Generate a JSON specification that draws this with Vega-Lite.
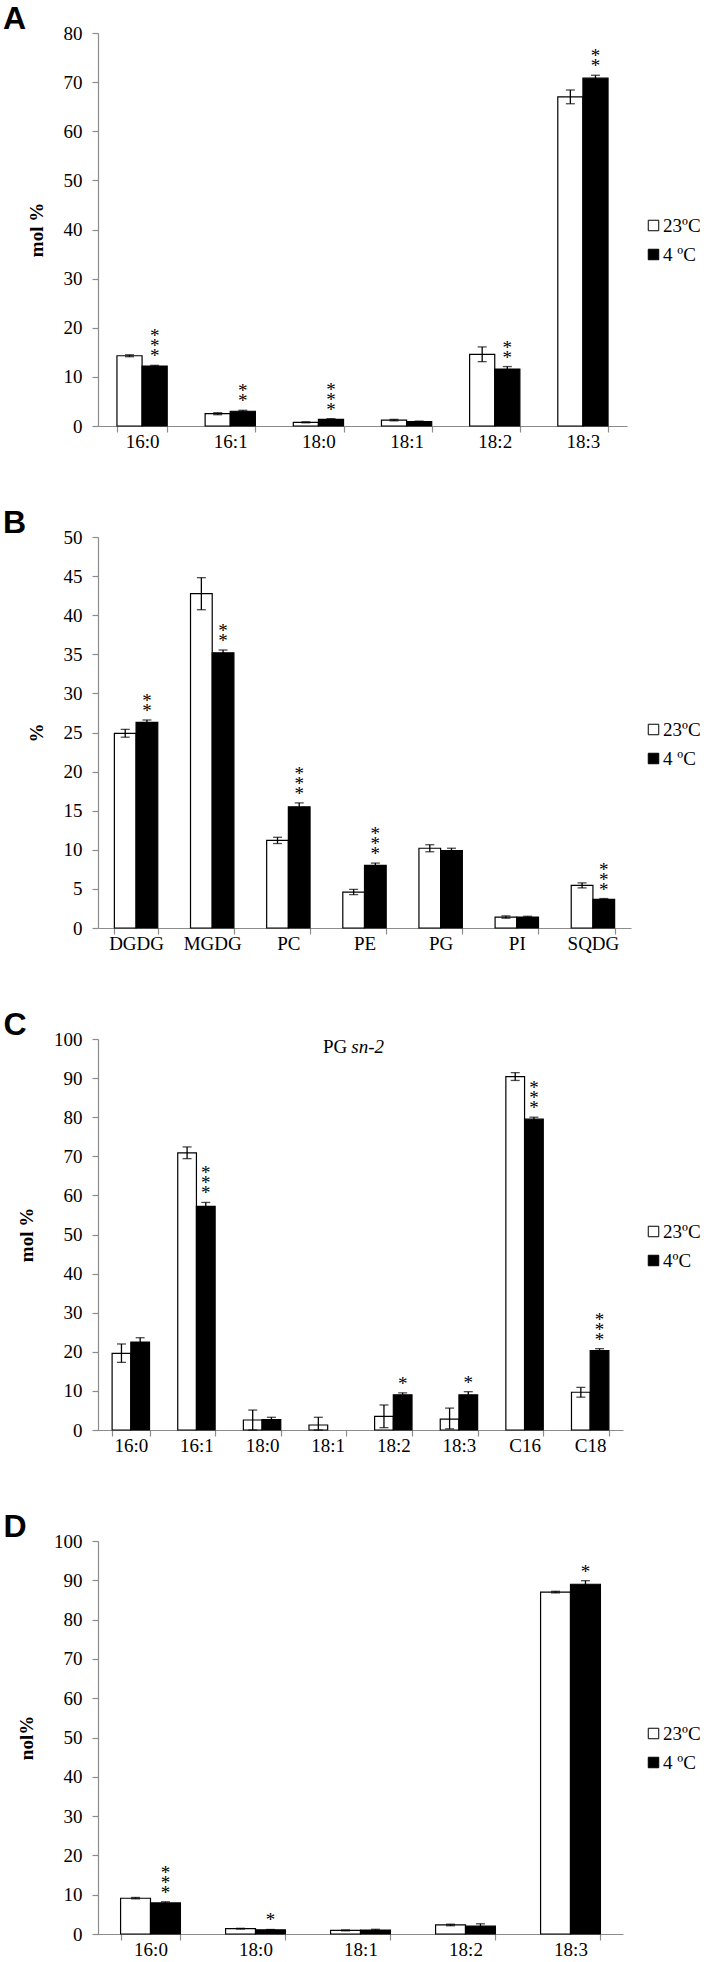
{
  "$schema": "https://vega.github.io/schema/vega-lite/v6.json",
  "padding": {"left": 3, "top": 3, "right": 0, "bottom": 0},
  "spacing": 56,
  "align": "none",
  "background": "white",
  "config": {
    "view": {"stroke": null},
    "font": "Liberation Serif",
    "axis": {"domainColor": "#8c8c8c", "tickColor": "#8c8c8c", "labelColor": "black", "labelFont": "Liberation Serif", "labelFontSize": 19, "titleFont": "Liberation Serif", "titleFontSize": 19, "titleFontWeight": "bold", "titleColor": "black", "grid": false, "tickSize": 6, "domainWidth": 1.2, "tickWidth": 1.2},
    "axisX": {"labelAngle": 0, "labelPadding": 0, "tickBand": "extent", "title": null},
    "axisY": {"labelPadding": 10, "titlePadding": 17, "labelOverlap": false},
    "legend": {"orient": "none", "title": null, "symbolType": "square", "symbolSize": 110, "symbolStrokeColor": "black", "symbolStrokeWidth": 1, "labelFont": "Liberation Serif", "labelFontSize": 19, "labelColor": "black", "labelOffset": 0, "rowPadding": 9, "legendX": 546, "legendY": 183},
    "title": {"anchor": "start", "frame": "bounds", "font": "Liberation Sans", "fontSize": 32, "fontWeight": "bold", "color": "black", "offset": -12, "baseline": "alphabetic"}
  },
  "resolve": {"scale": {"x": "independent", "y": "independent", "fill": "independent", "xOffset": "independent"}, "legend": {"fill": "independent"}},
  "datasets": {
    "A": [
      {"cat": "16:0", "temp": "23ºC", "v": 14.3, "lo": 14.1, "hi": 14.5, "n": 0},
      {"cat": "16:0", "temp": "4 ºC", "v": 12.2, "lo": 12.05, "hi": 12.35, "n": 3},
      {"cat": "16:1", "temp": "23ºC", "v": 2.5, "lo": 2.3, "hi": 2.7, "n": 0},
      {"cat": "16:1", "temp": "4 ºC", "v": 3.0, "lo": 2.85, "hi": 3.2, "n": 2},
      {"cat": "18:0", "temp": "23ºC", "v": 0.75, "lo": 0.65, "hi": 0.85, "n": 0},
      {"cat": "18:0", "temp": "4 ºC", "v": 1.35, "lo": 1.2, "hi": 1.5, "n": 3},
      {"cat": "18:1", "temp": "23ºC", "v": 1.2, "lo": 1.05, "hi": 1.35, "n": 0},
      {"cat": "18:1", "temp": "4 ºC", "v": 0.9, "lo": 0.8, "hi": 1.0, "n": 0},
      {"cat": "18:2", "temp": "23ºC", "v": 14.6, "lo": 13.1, "hi": 16.1, "n": 0},
      {"cat": "18:2", "temp": "4 ºC", "v": 11.6, "lo": 11.1, "hi": 12.1, "n": 2},
      {"cat": "18:3", "temp": "23ºC", "v": 67.0, "lo": 65.6, "hi": 68.4, "n": 0},
      {"cat": "18:3", "temp": "4 ºC", "v": 70.8, "lo": 70.2, "hi": 71.4, "n": 2}
    ],
    "B": [
      {"cat": "DGDG", "temp": "23ºC", "v": 24.9, "lo": 24.4, "hi": 25.4, "n": 0},
      {"cat": "DGDG", "temp": "4 ºC", "v": 26.3, "lo": 26.0, "hi": 26.6, "n": 2},
      {"cat": "MGDG", "temp": "23ºC", "v": 42.75, "lo": 40.7, "hi": 44.8, "n": 0},
      {"cat": "MGDG", "temp": "4 ºC", "v": 35.2, "lo": 34.85, "hi": 35.55, "n": 2},
      {"cat": "PC", "temp": "23ºC", "v": 11.2, "lo": 10.8, "hi": 11.6, "n": 0},
      {"cat": "PC", "temp": "4 ºC", "v": 15.5, "lo": 15.0, "hi": 16.0, "n": 3},
      {"cat": "PE", "temp": "23ºC", "v": 4.6, "lo": 4.26, "hi": 4.94, "n": 0},
      {"cat": "PE", "temp": "4 ºC", "v": 8.0, "lo": 7.7, "hi": 8.3, "n": 3},
      {"cat": "PG", "temp": "23ºC", "v": 10.2, "lo": 9.75, "hi": 10.65, "n": 0},
      {"cat": "PG", "temp": "4 ºC", "v": 9.9, "lo": 9.6, "hi": 10.2, "n": 0},
      {"cat": "PI", "temp": "23ºC", "v": 1.4, "lo": 1.25, "hi": 1.55, "n": 0},
      {"cat": "PI", "temp": "4 ºC", "v": 1.4, "lo": 1.3, "hi": 1.5, "n": 0},
      {"cat": "SQDG", "temp": "23ºC", "v": 5.45, "lo": 5.13, "hi": 5.77, "n": 0},
      {"cat": "SQDG", "temp": "4 ºC", "v": 3.67, "lo": 3.57, "hi": 3.77, "n": 3}
    ],
    "C": [
      {"cat": "16:0", "temp": "23ºC", "v": 19.6, "lo": 17.3, "hi": 22.0, "n": 0},
      {"cat": "16:0", "temp": "4ºC", "v": 22.5, "lo": 21.3, "hi": 23.6, "n": 0},
      {"cat": "16:1", "temp": "23ºC", "v": 70.9, "lo": 69.4, "hi": 72.4, "n": 0},
      {"cat": "16:1", "temp": "4ºC", "v": 57.2, "lo": 56.1, "hi": 58.2, "n": 3},
      {"cat": "18:0", "temp": "23ºC", "v": 2.56, "lo": 0, "hi": 5.1, "n": 0},
      {"cat": "18:0", "temp": "4ºC", "v": 2.65, "lo": 2.0, "hi": 3.25, "n": 0},
      {"cat": "18:1", "temp": "23ºC", "v": 1.28, "lo": 0, "hi": 3.25, "n": 0},
      {"cat": "18:2", "temp": "23ºC", "v": 3.5, "lo": 0.6, "hi": 6.4, "n": 0},
      {"cat": "18:2", "temp": "4ºC", "v": 9.0, "lo": 8.5, "hi": 9.5, "n": 1},
      {"cat": "18:3", "temp": "23ºC", "v": 2.8, "lo": 0.3, "hi": 5.6, "n": 0},
      {"cat": "18:3", "temp": "4ºC", "v": 9.0, "lo": 8.1, "hi": 9.8, "n": 1},
      {"cat": "C16", "temp": "23ºC", "v": 90.4, "lo": 89.4, "hi": 91.4, "n": 0},
      {"cat": "C16", "temp": "4ºC", "v": 79.5, "lo": 78.9, "hi": 80.0, "n": 3},
      {"cat": "C18", "temp": "23ºC", "v": 9.65, "lo": 8.4, "hi": 10.9, "n": 0},
      {"cat": "C18", "temp": "4ºC", "v": 20.3, "lo": 19.8, "hi": 20.8, "n": 3}
    ],
    "D": [
      {"cat": "16:0", "temp": "23ºC", "v": 9.1, "lo": 8.95, "hi": 9.3, "n": 0},
      {"cat": "16:0", "temp": "4 ºC", "v": 7.9, "lo": 7.6, "hi": 8.2, "n": 3},
      {"cat": "18:0", "temp": "23ºC", "v": 1.35, "lo": 1.25, "hi": 1.45, "n": 0},
      {"cat": "18:0", "temp": "4 ºC", "v": 1.05, "lo": 0.95, "hi": 1.15, "n": 1},
      {"cat": "18:1", "temp": "23ºC", "v": 0.93, "lo": 0.8, "hi": 1.05, "n": 0},
      {"cat": "18:1", "temp": "4 ºC", "v": 1.0, "lo": 0.8, "hi": 1.2, "n": 0},
      {"cat": "18:2", "temp": "23ºC", "v": 2.3, "lo": 2.1, "hi": 2.5, "n": 0},
      {"cat": "18:2", "temp": "4 ºC", "v": 2.0, "lo": 1.4, "hi": 2.6, "n": 0},
      {"cat": "18:3", "temp": "23ºC", "v": 87.0, "lo": 86.8, "hi": 87.2, "n": 0},
      {"cat": "18:3", "temp": "4 ºC", "v": 89.0, "lo": 88.1, "hi": 89.9, "n": 1}
    ]
  },
  "vconcat": [
    {
      "title": {"text": "A", "dx": -24},
      "width": 529, "height": 393,
      "data": {"name": "A"},
      "encoding": {
        "x": {"field": "cat", "type": "nominal", "sort": null, "scale": {"paddingInner": 0.43, "paddingOuter": 0.215}},
        "xOffset": {"field": "temp", "type": "nominal", "scale": {"domain": ["23ºC", "4 ºC"]}}
      },
      "layer": [
        {"mark": {"type": "bar", "stroke": "black", "strokeWidth": 1.2},
         "encoding": {
           "y": {"field": "v", "type": "quantitative", "title": "mol %", "scale": {"domain": [0, 80], "nice": false}, "axis": {"values": [0, 10, 20, 30, 40, 50, 60, 70, 80]}},
           "fill": {"field": "temp", "type": "nominal", "scale": {"domain": ["23ºC", "4 ºC"], "range": ["white", "black"]}}
         }},
        {"mark": {"type": "rule", "color": "black", "strokeWidth": 1.3}, "encoding": {"y": {"field": "lo", "type": "quantitative", "title": "mol %", "axis": {"values": [0, 10, 20, 30, 40, 50, 60, 70, 80]}}, "y2": {"field": "hi"}}},
        {"mark": {"type": "tick", "color": "black", "thickness": 1.3, "size": 9}, "encoding": {"y": {"field": "hi", "type": "quantitative", "title": "mol %", "axis": {"values": [0, 10, 20, 30, 40, 50, 60, 70, 80]}}}},
        {"mark": {"type": "tick", "color": "black", "thickness": 1.3, "size": 9}, "encoding": {"y": {"field": "lo", "type": "quantitative", "title": "mol %", "axis": {"values": [0, 10, 20, 30, 40, 50, 60, 70, 80]}}}},
        {"transform": [{"filter": "datum.n >= 1"}], "mark": {"type": "text", "text": "*", "fontSize": 19, "baseline": "alphabetic", "dy": -3, "color": "black"}, "encoding": {"y": {"field": "hi", "type": "quantitative", "title": "mol %", "axis": {"values": [0, 10, 20, 30, 40, 50, 60, 70, 80]}}}},
        {"transform": [{"filter": "datum.n >= 2"}], "mark": {"type": "text", "text": "*", "fontSize": 19, "baseline": "alphabetic", "dy": -13, "color": "black"}, "encoding": {"y": {"field": "hi", "type": "quantitative", "title": "mol %", "axis": {"values": [0, 10, 20, 30, 40, 50, 60, 70, 80]}}}},
        {"transform": [{"filter": "datum.n >= 3"}], "mark": {"type": "text", "text": "*", "fontSize": 19, "baseline": "alphabetic", "dy": -23, "color": "black"}, "encoding": {"y": {"field": "hi", "type": "quantitative", "title": "mol %", "axis": {"values": [0, 10, 20, 30, 40, 50, 60, 70, 80]}}}}
      ]
    },
    {
      "title": {"text": "B", "dx": -24},
      "width": 533, "height": 391,
      "data": {"name": "B"},
      "encoding": {
        "x": {"field": "cat", "type": "nominal", "sort": null, "scale": {"paddingInner": 0.43, "paddingOuter": 0.215}},
        "xOffset": {"field": "temp", "type": "nominal", "scale": {"domain": ["23ºC", "4 ºC"]}}
      },
      "layer": [
        {"mark": {"type": "bar", "stroke": "black", "strokeWidth": 1.2},
         "encoding": {
           "y": {"field": "v", "type": "quantitative", "title": "%", "scale": {"domain": [0, 50], "nice": false}, "axis": {"values": [0, 5, 10, 15, 20, 25, 30, 35, 40, 45, 50]}},
           "fill": {"field": "temp", "type": "nominal", "scale": {"domain": ["23ºC", "4 ºC"], "range": ["white", "black"]}}
         }},
        {"mark": {"type": "rule", "color": "black", "strokeWidth": 1.3}, "encoding": {"y": {"field": "lo", "type": "quantitative", "title": "%", "axis": {"values": [0, 5, 10, 15, 20, 25, 30, 35, 40, 45, 50]}}, "y2": {"field": "hi"}}},
        {"mark": {"type": "tick", "color": "black", "thickness": 1.3, "size": 9}, "encoding": {"y": {"field": "hi", "type": "quantitative", "title": "%", "axis": {"values": [0, 5, 10, 15, 20, 25, 30, 35, 40, 45, 50]}}}},
        {"mark": {"type": "tick", "color": "black", "thickness": 1.3, "size": 9}, "encoding": {"y": {"field": "lo", "type": "quantitative", "title": "%", "axis": {"values": [0, 5, 10, 15, 20, 25, 30, 35, 40, 45, 50]}}}},
        {"transform": [{"filter": "datum.n >= 1"}], "mark": {"type": "text", "text": "*", "fontSize": 19, "baseline": "alphabetic", "dy": -3, "color": "black"}, "encoding": {"y": {"field": "hi", "type": "quantitative", "title": "%", "axis": {"values": [0, 5, 10, 15, 20, 25, 30, 35, 40, 45, 50]}}}},
        {"transform": [{"filter": "datum.n >= 2"}], "mark": {"type": "text", "text": "*", "fontSize": 19, "baseline": "alphabetic", "dy": -13, "color": "black"}, "encoding": {"y": {"field": "hi", "type": "quantitative", "title": "%", "axis": {"values": [0, 5, 10, 15, 20, 25, 30, 35, 40, 45, 50]}}}},
        {"transform": [{"filter": "datum.n >= 3"}], "mark": {"type": "text", "text": "*", "fontSize": 19, "baseline": "alphabetic", "dy": -23, "color": "black"}, "encoding": {"y": {"field": "hi", "type": "quantitative", "title": "%", "axis": {"values": [0, 5, 10, 15, 20, 25, 30, 35, 40, 45, 50]}}}}
      ]
    },
    {
      "title": {"text": "C", "dx": -14},
      "width": 525, "height": 391,
      "data": {"name": "C"},
      "encoding": {
        "x": {"field": "cat", "type": "nominal", "sort": null, "scale": {"domain": ["16:0", "16:1", "18:0", "18:1", "18:2", "18:3", "C16", "C18"], "paddingInner": 0.43, "paddingOuter": 0.215}},
        "xOffset": {"field": "temp", "type": "nominal", "scale": {"domain": ["23ºC", "4ºC"]}}
      },
      "layer": [
        {"mark": {"type": "bar", "stroke": "black", "strokeWidth": 1.2},
         "encoding": {
           "y": {"field": "v", "type": "quantitative", "title": "mol %", "scale": {"domain": [0, 100], "nice": false}, "axis": {"values": [0, 10, 20, 30, 40, 50, 60, 70, 80, 90, 100], "titlePadding": 17}},
           "fill": {"field": "temp", "type": "nominal", "scale": {"domain": ["23ºC", "4ºC"], "range": ["white", "black"]}}
         }},
        {"mark": {"type": "rule", "color": "black", "strokeWidth": 1.3}, "encoding": {"y": {"field": "lo", "type": "quantitative", "title": "mol %", "axis": {"values": [0, 10, 20, 30, 40, 50, 60, 70, 80, 90, 100], "titlePadding": 17}}, "y2": {"field": "hi"}}},
        {"mark": {"type": "tick", "color": "black", "thickness": 1.3, "size": 9}, "encoding": {"y": {"field": "hi", "type": "quantitative", "title": "mol %", "axis": {"values": [0, 10, 20, 30, 40, 50, 60, 70, 80, 90, 100], "titlePadding": 17}}}},
        {"mark": {"type": "tick", "color": "black", "thickness": 1.3, "size": 9}, "encoding": {"y": {"field": "lo", "type": "quantitative", "title": "mol %", "axis": {"values": [0, 10, 20, 30, 40, 50, 60, 70, 80, 90, 100], "titlePadding": 17}}}},
        {"transform": [{"filter": "datum.n >= 1"}], "mark": {"type": "text", "text": "*", "fontSize": 19, "baseline": "alphabetic", "dy": -3, "color": "black"}, "encoding": {"y": {"field": "hi", "type": "quantitative", "title": "mol %", "axis": {"values": [0, 10, 20, 30, 40, 50, 60, 70, 80, 90, 100], "titlePadding": 17}}}},
        {"transform": [{"filter": "datum.n >= 2"}], "mark": {"type": "text", "text": "*", "fontSize": 19, "baseline": "alphabetic", "dy": -13, "color": "black"}, "encoding": {"y": {"field": "hi", "type": "quantitative", "title": "mol %", "axis": {"values": [0, 10, 20, 30, 40, 50, 60, 70, 80, 90, 100], "titlePadding": 17}}}},
        {"transform": [{"filter": "datum.n >= 3"}], "mark": {"type": "text", "text": "*", "fontSize": 19, "baseline": "alphabetic", "dy": -23, "color": "black"}, "encoding": {"y": {"field": "hi", "type": "quantitative", "title": "mol %", "axis": {"values": [0, 10, 20, 30, 40, 50, 60, 70, 80, 90, 100], "titlePadding": 17}}}},
        {"data": {"values": [{"label": "PG", "cat": "18:2", "pos": 98}]},
         "mark": {"type": "text", "align": "right", "baseline": "middle", "fontSize": 19, "color": "black", "dx": -46},
         "encoding": {"x": {"field": "cat", "type": "nominal"}, "xOffset": null, "y": {"field": "pos", "type": "quantitative", "title": "mol %", "axis": {"values": [0, 10, 20, 30, 40, 50, 60, 70, 80, 90, 100], "titlePadding": 17}}, "text": {"field": "label"}}},
        {"data": {"values": [{"label": "sn-2", "cat": "18:2", "pos": 98}]},
         "mark": {"type": "text", "align": "left", "baseline": "middle", "fontSize": 19, "fontStyle": "italic", "color": "black", "dx": -42},
         "encoding": {"x": {"field": "cat", "type": "nominal"}, "xOffset": null, "y": {"field": "pos", "type": "quantitative", "title": "mol %", "axis": {"values": [0, 10, 20, 30, 40, 50, 60, 70, 80, 90, 100], "titlePadding": 17}}, "text": {"field": "label"}}}
      ]
    },
    {
      "title": {"text": "D", "dx": -14},
      "width": 525, "height": 393,
      "data": {"name": "D"},
      "encoding": {
        "x": {"field": "cat", "type": "nominal", "sort": null, "scale": {"paddingInner": 0.43, "paddingOuter": 0.215}},
        "xOffset": {"field": "temp", "type": "nominal", "scale": {"domain": ["23ºC", "4 ºC"]}}
      },
      "layer": [
        {"mark": {"type": "bar", "stroke": "black", "strokeWidth": 1.2},
         "encoding": {
           "y": {"field": "v", "type": "quantitative", "title": "nol%", "scale": {"domain": [0, 100], "nice": false}, "axis": {"values": [0, 10, 20, 30, 40, 50, 60, 70, 80, 90, 100], "titlePadding": 17}},
           "fill": {"field": "temp", "type": "nominal", "scale": {"domain": ["23ºC", "4 ºC"], "range": ["white", "black"]}}
         }},
        {"mark": {"type": "rule", "color": "black", "strokeWidth": 1.3}, "encoding": {"y": {"field": "lo", "type": "quantitative", "title": "nol%", "axis": {"values": [0, 10, 20, 30, 40, 50, 60, 70, 80, 90, 100], "titlePadding": 17}}, "y2": {"field": "hi"}}},
        {"mark": {"type": "tick", "color": "black", "thickness": 1.3, "size": 9}, "encoding": {"y": {"field": "hi", "type": "quantitative", "title": "nol%", "axis": {"values": [0, 10, 20, 30, 40, 50, 60, 70, 80, 90, 100], "titlePadding": 17}}}},
        {"mark": {"type": "tick", "color": "black", "thickness": 1.3, "size": 9}, "encoding": {"y": {"field": "lo", "type": "quantitative", "title": "nol%", "axis": {"values": [0, 10, 20, 30, 40, 50, 60, 70, 80, 90, 100], "titlePadding": 17}}}},
        {"transform": [{"filter": "datum.n >= 1"}], "mark": {"type": "text", "text": "*", "fontSize": 19, "baseline": "alphabetic", "dy": -3, "color": "black"}, "encoding": {"y": {"field": "hi", "type": "quantitative", "title": "nol%", "axis": {"values": [0, 10, 20, 30, 40, 50, 60, 70, 80, 90, 100], "titlePadding": 17}}}},
        {"transform": [{"filter": "datum.n >= 2"}], "mark": {"type": "text", "text": "*", "fontSize": 19, "baseline": "alphabetic", "dy": -13, "color": "black"}, "encoding": {"y": {"field": "hi", "type": "quantitative", "title": "nol%", "axis": {"values": [0, 10, 20, 30, 40, 50, 60, 70, 80, 90, 100], "titlePadding": 17}}}},
        {"transform": [{"filter": "datum.n >= 3"}], "mark": {"type": "text", "text": "*", "fontSize": 19, "baseline": "alphabetic", "dy": -23, "color": "black"}, "encoding": {"y": {"field": "hi", "type": "quantitative", "title": "nol%", "axis": {"values": [0, 10, 20, 30, 40, 50, 60, 70, 80, 90, 100], "titlePadding": 17}}}}
      ]
    }
  ]
}
